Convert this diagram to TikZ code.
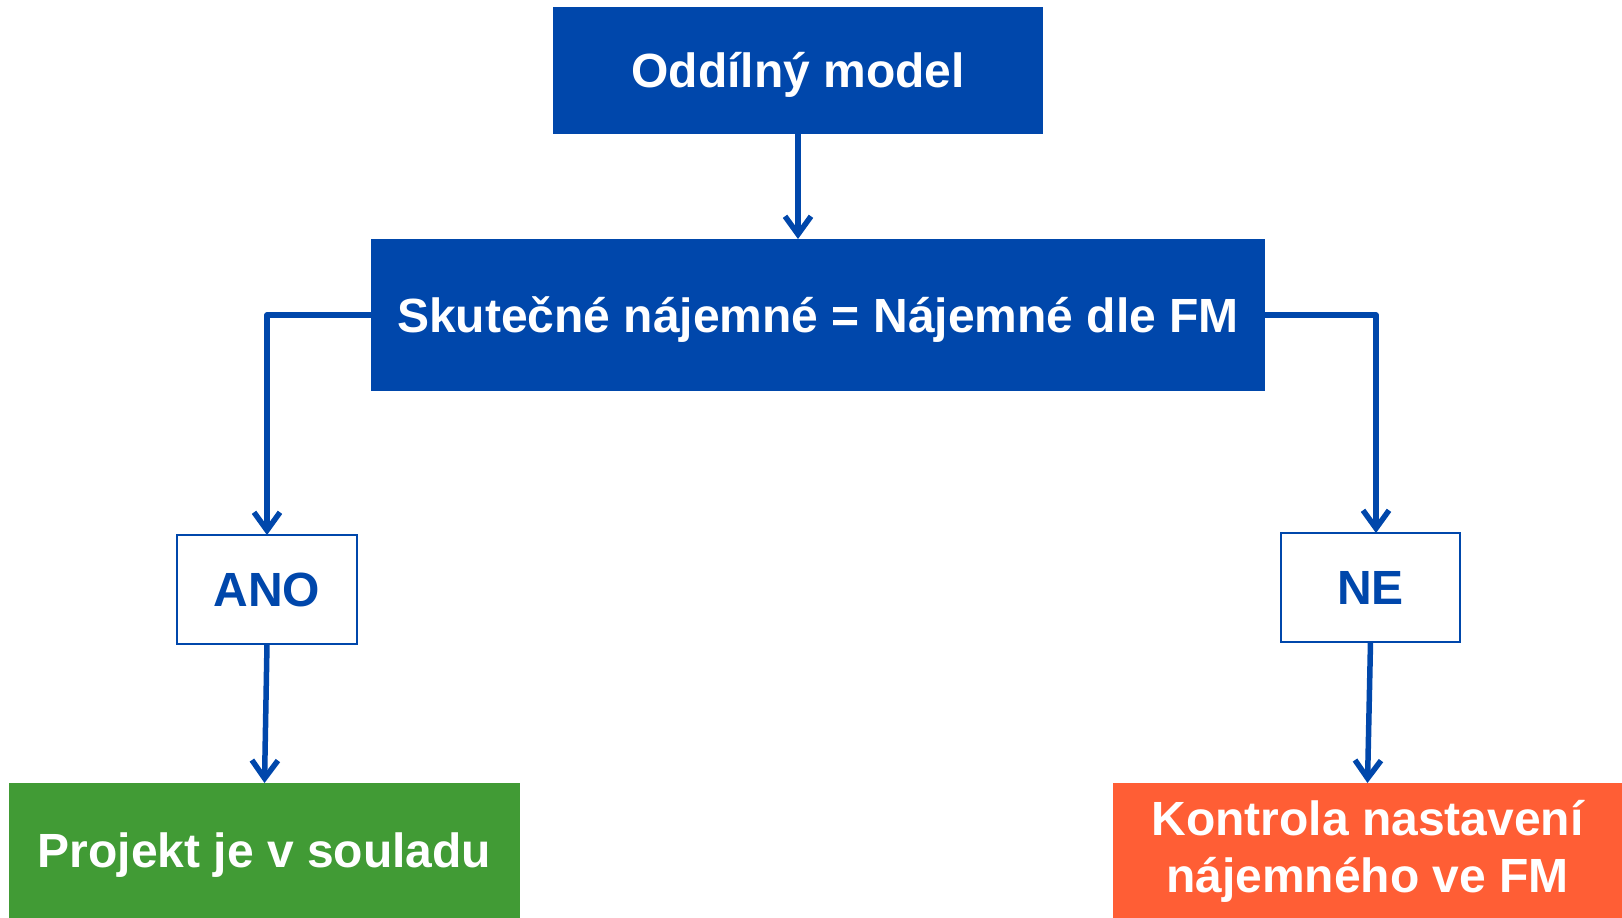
\documentclass[tikz,border=0pt]{standalone}
\usepackage{fontspec}
\setmainfont{Liberation Sans}
\usetikzlibrary{arrows.meta,calc}
\definecolor{cblue}{RGB}{0,71,171}
\definecolor{cgreen}{RGB}{65,155,53}
\definecolor{corange}{RGB}{255,94,53}
\tikzset{
  every node/.style={inner sep=0pt, outer sep=0pt, font=\bfseries\fontsize{48}{57}\selectfont, text height=34pt, text depth=0pt},
  bluebox/.style={fill=cblue, draw=none, text=white, rectangle},
  answerbox/.style={fill=white, draw=cblue, line width=2.6pt, text=cblue, rectangle},
  greenbox/.style={fill=cgreen, draw=none, text=white, rectangle},
  orangebox/.style={fill=corange, draw=none, text=white, rectangle, align=center},
  conn/.style={draw=cblue, line width=5.5pt, line join=round, -{Straight Barb[length=18pt,width=26pt,line width=5.5pt]}},
}
\begin{document}
\begin{tikzpicture}[x=1pt,y=1pt]
\useasboundingbox (0,0) rectangle (1622,-918);
\node[bluebox, minimum width=490pt, minimum height=127pt] (top) at (798,-70.5) {Oddílný model};
\node[bluebox, minimum width=894pt, minimum height=152pt] (mid) at (818,-315) {Skutečné nájemné = Nájemné dle FM};
\node[answerbox, minimum width=180pt, minimum height=109pt] (ano) at (267,-589.5) {ANO};
\node[answerbox, minimum width=179pt, minimum height=109pt] (ne) at (1370.5,-587.5) {NE};
\node[greenbox, minimum width=511pt, minimum height=135pt] (yes) at (264.5,-850.5) {Projekt je v souladu};
\node[orangebox, minimum width=509pt, minimum height=135pt, text height=83pt, text depth=0pt] (no) at (1367.5,-850.5) {Kontrola nastavení\\nájemného ve FM};
\draw[conn] (top.south) -- (top.south |- mid.north);
\draw[conn] (mid.west) -| (ano.north);
\coordinate (nein) at ($(ne.north)+(5.5,0)$);
\draw[conn] (mid.east) -| (nein);
\draw[conn] (ano.south) -- (yes.north);
\draw[conn] (ne.south) -- (no.north);
\end{tikzpicture}
\end{document}
